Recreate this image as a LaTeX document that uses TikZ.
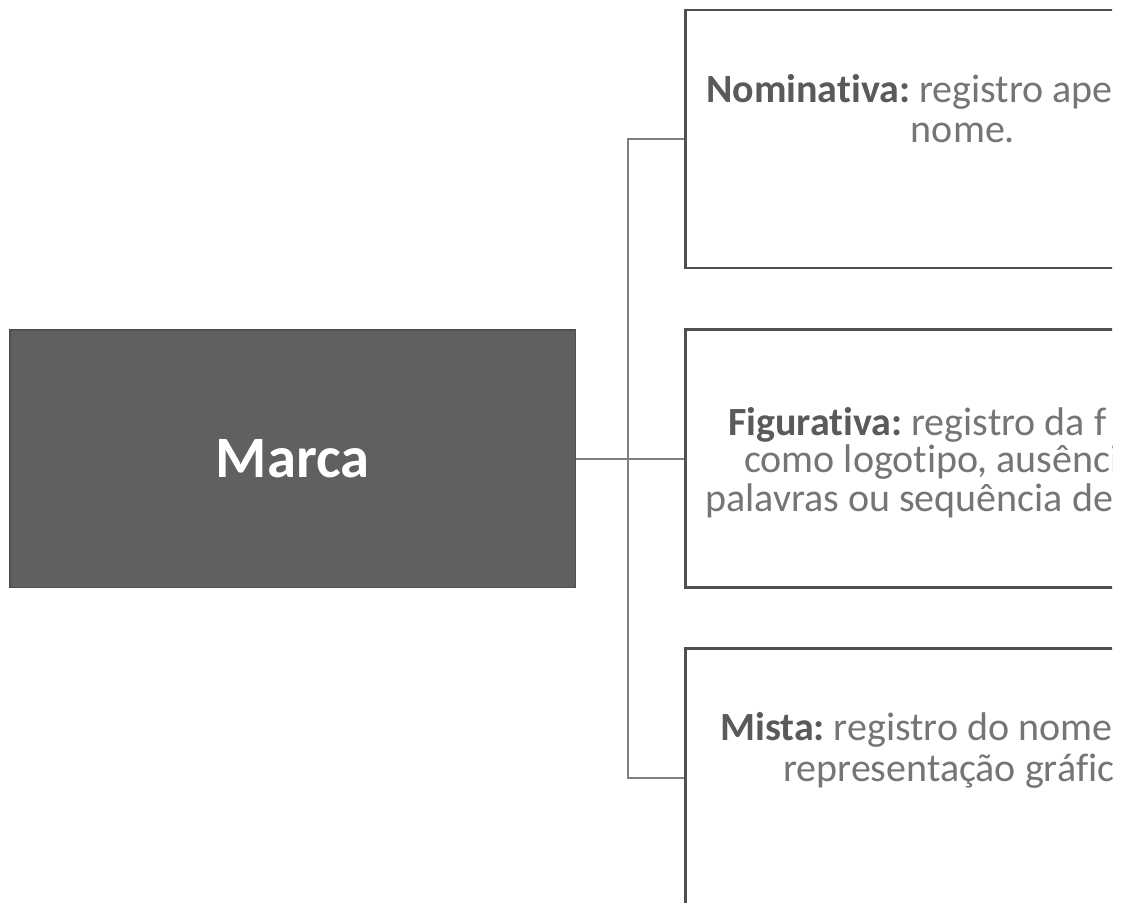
\documentclass[tikz,border=0pt]{standalone}
\usepackage{fontspec}
\setmainfont[Ligatures=NoCommon]{Carlito}
\frenchspacing
\usetikzlibrary{positioning}
\definecolor{mkfill}{HTML}{606060}
\definecolor{mkborder}{HTML}{4F4F4F}
\definecolor{mkline}{HTML}{7F7F7F}
\definecolor{mkbold}{HTML}{5A5A5A}
\definecolor{mktext}{HTML}{757575}

\begin{document}
\begin{tikzpicture}[x=0.75pt,y=-0.75pt,
    every node/.style={font=\fontsize{30}{36}\selectfont},
    rootbox/.style={draw=mkborder,line width=1pt,fill=mkfill,text=white,
      minimum width=424pt,minimum height=193pt,inner sep=0pt,
      font=\fontsize{44}{52}\selectfont\bfseries},
    catbox/.style={draw=mkborder,line width=1.8pt,fill=white,
      minimum width=424pt,minimum height=193.5pt,inner sep=0pt},
    conn/.style={draw=mkline,line width=1.5pt},
    linetxt/.style={text=mktext,inner sep=0pt,anchor=base west}]

  \useasboundingbox (0,0) rectangle (1128,903);
  \clip (0,0) rectangle (1112,903);

  %% root and the three categories
  \node[rootbox] (marca) at (292.5,458.5) {Marca};
  \node[catbox] (catnom) at (968,139) {};
  \node[catbox] (catfig) at (968,458.5) {};
  \node[catbox] (catmis) at (968,777.5) {};

  %% connectors
  \draw[conn] (catnom.west) -- ++(-56,0) |- (catmis.west);
  \draw[conn] (marca.east) -- (catfig.west);

  %% texts
  \node[linetxt] (nomA) at (706,102) {{\color{mkbold}\bfseries Nominativa:} registro ape};
  \node[linetxt,anchor=base] (nomB) at (963,142) {nome.};
  \node[linetxt] (figA) at (728,435) {{\color{mkbold}\bfseries Figurativa:} registro da f};
  \node[linetxt] (figB) at (744,472) {como logotipo, ausênci};
  \node[linetxt] (figC) at (705,511) {palavras ou sequência de};
  \node[linetxt] (misA) at (720,740) {{\color{mkbold}\bfseries Mista:} registro do nome};
  \node[linetxt] (misB) at (783,781) {representação gráfic};
\end{tikzpicture}
\end{document}
